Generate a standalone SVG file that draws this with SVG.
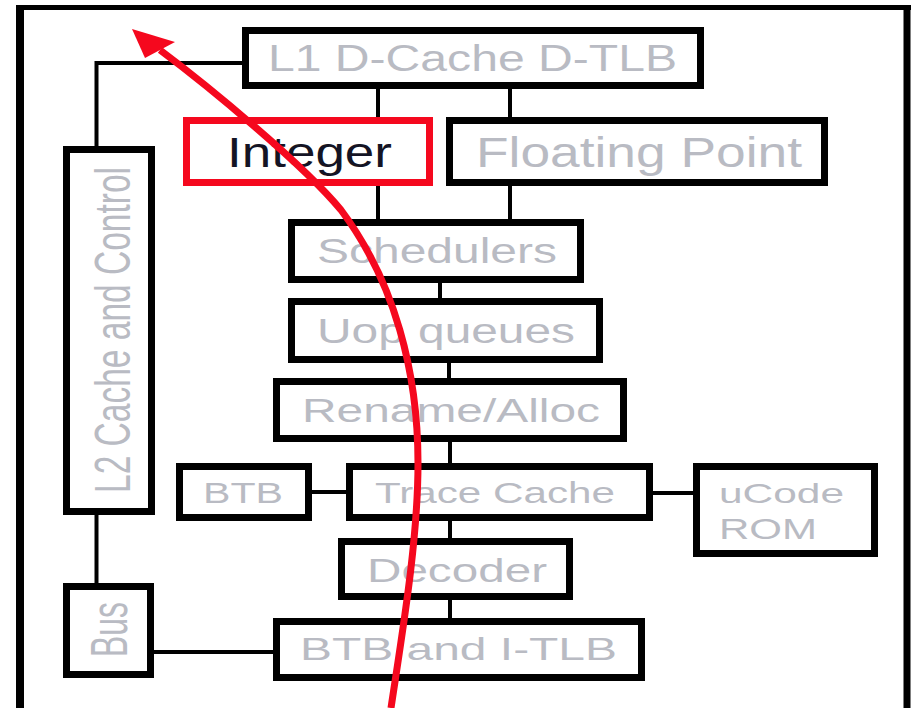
<svg xmlns="http://www.w3.org/2000/svg" width="917" height="708" viewBox="0 0 917 708">
<style>
  .box { fill: #ffffff; stroke: #000000; stroke-width: 7; }
  .hl { fill: #ffffff; stroke: #f5081e; stroke-width: 7; }
  .lbl { font-family: "Liberation Sans", Arial, sans-serif; fill: #b9bbc3; }
  .dark { fill: #141424; }
  .conn { stroke: #000000; stroke-width: 4; fill: none; }
  .frame { stroke: #000000; fill: none; }
</style>
<rect x="0" y="0" width="917" height="708" fill="#ffffff"/>
<g id="frame">
  <line class="frame" x1="20" y1="5" x2="20" y2="708" stroke-width="8"/>
  <line class="frame" x1="16" y1="7.5" x2="911" y2="7.5" stroke-width="5"/>
  <line class="frame" x1="907" y1="5" x2="907" y2="708" stroke-width="7"/>
</g>
<g id="connectors">
  <line class="conn" x1="378" y1="89" x2="378" y2="117"/>
  <line class="conn" x1="510" y1="89" x2="510" y2="117"/>
  <line class="conn" x1="378" y1="186" x2="378" y2="219"/>
  <line class="conn" x1="510" y1="186" x2="510" y2="219"/>
  <line class="conn" x1="440" y1="283" x2="440" y2="298"/>
  <line class="conn" x1="449" y1="363" x2="449" y2="378"/>
  <line class="conn" x1="450" y1="442" x2="450" y2="463"/>
  <line class="conn" x1="450" y1="521" x2="450" y2="538"/>
  <line class="conn" x1="450" y1="600" x2="450" y2="618"/>
  <line class="conn" x1="312" y1="492" x2="346" y2="492"/>
  <line class="conn" x1="653" y1="493" x2="693" y2="493"/>
  <line class="conn" x1="154" y1="652" x2="273" y2="652"/>
  <path class="conn" d="M242,63 H96.5 V146"/>
  <line class="conn" x1="96.5" y1="515" x2="96.5" y2="583"/>
</g>
<g id="l1">
  <rect class="box" x="245.5" y="30.5" width="455" height="55"/>
  <text class="lbl" x="268" y="71" font-size="36" textLength="409" lengthAdjust="spacingAndGlyphs">L1 D-Cache D-TLB</text>
</g>
<g id="integer">
  <rect class="hl" x="186.5" y="120.5" width="243" height="62"/>
  <text class="lbl dark" x="227" y="167" font-size="42" textLength="165" lengthAdjust="spacingAndGlyphs">Integer</text>
</g>
<g id="fp">
  <rect class="box" x="449.5" y="120.5" width="375" height="62"/>
  <text class="lbl" x="476" y="167" font-size="42" textLength="326" lengthAdjust="spacingAndGlyphs">Floating Point</text>
</g>
<g id="schedulers">
  <rect class="box" x="291.5" y="222.5" width="289" height="57"/>
  <text class="lbl" x="317" y="263" font-size="35" textLength="240" lengthAdjust="spacingAndGlyphs">Schedulers</text>
</g>
<g id="uop">
  <rect class="box" x="291.5" y="301.5" width="308" height="58"/>
  <text class="lbl" x="317" y="343" font-size="35" textLength="258" lengthAdjust="spacingAndGlyphs">Uop queues</text>
</g>
<g id="rename">
  <rect class="box" x="276.5" y="381.5" width="347" height="57"/>
  <text class="lbl" x="302" y="422" font-size="33.5" textLength="298" lengthAdjust="spacingAndGlyphs">Rename/Alloc</text>
</g>
<g id="btb">
  <rect class="box" x="179.5" y="466.5" width="129" height="51"/>
  <text class="lbl" x="203" y="503" font-size="29.5" textLength="80" lengthAdjust="spacingAndGlyphs">BTB</text>
</g>
<g id="trace">
  <rect class="box" x="349.5" y="466.5" width="300" height="51"/>
  <text class="lbl" x="375" y="503" font-size="29.5" textLength="240" lengthAdjust="spacingAndGlyphs">Trace Cache</text>
</g>
<g id="ucode">
  <rect class="box" x="696.5" y="466.5" width="178" height="87"/>
  <text class="lbl" x="719" y="503" font-size="28" textLength="125" lengthAdjust="spacingAndGlyphs">uCode</text>
  <text class="lbl" x="719" y="539" font-size="29.5" textLength="98" lengthAdjust="spacingAndGlyphs">ROM</text>
</g>
<g id="decoder">
  <rect class="box" x="341.5" y="541.5" width="228" height="55"/>
  <text class="lbl" x="367" y="582" font-size="33.5" textLength="180" lengthAdjust="spacingAndGlyphs">Decoder</text>
</g>
<g id="btbitlb">
  <rect class="box" x="276.5" y="621.5" width="365" height="56"/>
  <text class="lbl" x="300" y="660" font-size="32" textLength="317" lengthAdjust="spacingAndGlyphs">BTB and I-TLB</text>
</g>
<g id="l2">
  <rect class="box" x="66.5" y="149.5" width="85" height="362"/>
  <text class="lbl" transform="translate(130,493) rotate(-90)" x="0" y="0" font-size="50" textLength="326" lengthAdjust="spacingAndGlyphs">L2 Cache and Control</text>
</g>
<g id="bus">
  <rect class="box" x="66.5" y="586.5" width="84" height="88"/>
  <text class="lbl" transform="translate(127,657) rotate(-90)" x="0" y="0" font-size="52" textLength="55" lengthAdjust="spacingAndGlyphs">Bus</text>
</g>
<g id="red-arrow">
  <path d="M391,708 C402.7,630 418,540 418,463 C418,373 395,282 341,210 C303,164 208,86 160,50" fill="none" stroke="#f5081e" stroke-width="7"/>
  <polygon points="132,29 145,58 175,42" fill="#f5081e"/>
</g>
</svg>
